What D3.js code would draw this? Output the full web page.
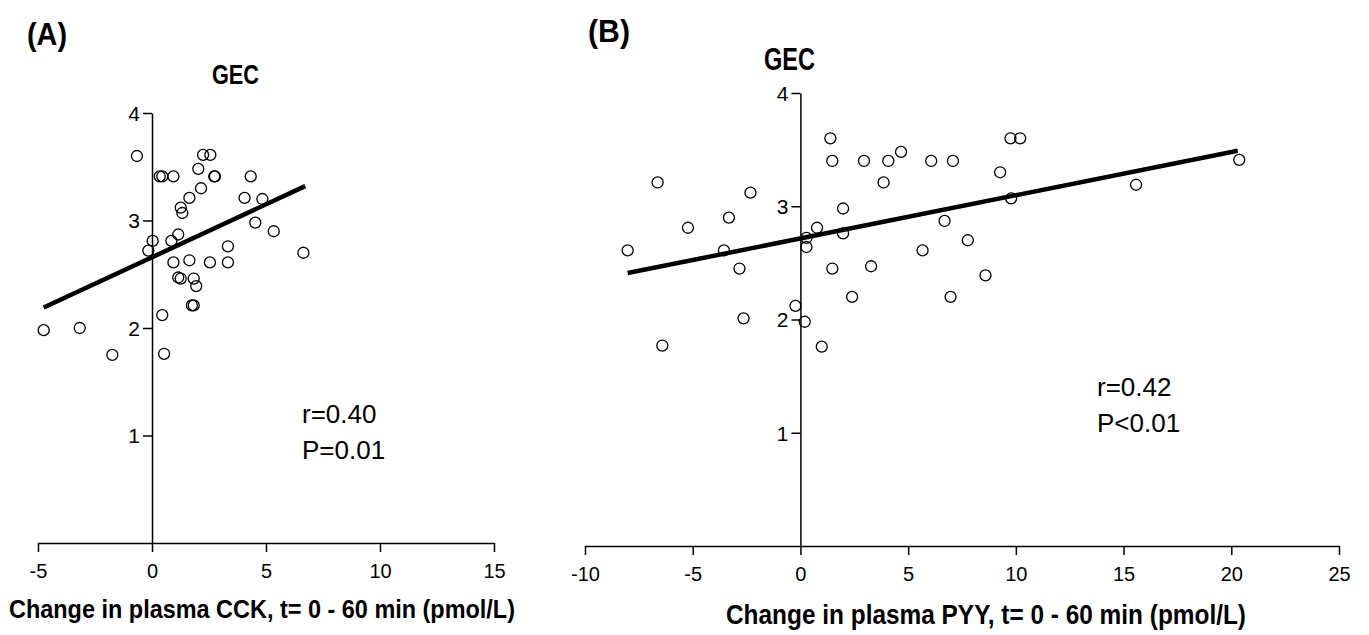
<!DOCTYPE html>
<html>
<head>
<meta charset="utf-8">
<script src="https://cdn.jsdelivr.net/npm/d3@7"></script>
<style>
  body{margin:0;background:#fff;}
  .narrow{font-family:"Liberation Sans",Arial,sans-serif;font-weight:bold;}
</style>
</head>
<body>
<svg id="chart" width="1369" height="635"></svg>
<script>
// panel A: change in CCK vs GEC
const cckA=[-4.75,-3.17,-1.74,-0.66,-0.16,0.03,0.34,0.45,0.45,0.53,0.94,0.85,0.94,1.15,1.26,1.33,1.15,1.26,1.64,1.64,1.75,1.83,1.83,1.94,2.03,2.15,2.24,2.56,2.54,2.73,2.76,3.33,3.33,4.06,4.33,4.53,4.84,5.34,6.64]
const gecA=[1.98,2.00,1.75,3.60,2.72,2.81,3.41,3.41,2.12,1.76,3.41,2.81,2.61,2.87,3.12,3.07,2.47,2.46,2.63,3.21,2.21,2.21,2.46,2.39,3.48,3.30,3.61,3.61,2.61,3.41,3.41,2.76,2.61,3.21,3.41,2.98,3.20,2.90,2.70]
// panel B: change in PYY vs GEC
const pyyB=[-8.02,-6.63,-6.41,-5.22,-3.55,-3.32,-2.83,-2.64,-2.32,-0.23,0.20,0.28,0.28,0.77,0.99,1.39,1.48,1.48,1.98,1.98,2.40,2.95,3.28,3.86,4.08,4.67,5.67,6.07,6.69,6.97,7.08,7.77,8.59,9.27,9.75,10.2,9.78,15.58,20.37]
const gecB=[2.61,3.21,1.77,2.81,2.61,2.90,2.45,2.01,3.12,2.12,1.98,2.72,2.64,2.81,1.76,3.60,3.40,2.45,2.98,2.76,2.20,3.40,2.47,3.21,3.40,3.48,2.61,3.40,2.87,2.20,3.40,2.70,2.39,3.30,3.60,3.60,3.07,3.19,3.41]
// regression lines (end points)
const fitAx=[-4.75,6.72], fitAy=[2.19,3.32]
const fitBx=[-8.02,20.3], fitBy=[2.41,3.49]
const xTicksA=[-5,0,5,10,15]
const xTicksB=[-10,-5,0,5,10,15,20,25]
const yTicks=[1,2,3,4]

const svg=d3.select("#chart")

// condensed label: bold text squeezed to the measured width
function narrowText(g,x,y,size,len,anchor,txt){
  return g.append("text").attr("class","narrow")
    .attr("x",x).attr("y",y).attr("font-size",size)
    .attr("text-anchor",anchor)
    .attr("textLength",len).attr("lengthAdjust","spacingAndGlyphs")
    .text(txt)
}

function panel(o){
  const x=d3.scaleLinear().domain(o.xdom).range(o.xr)
  const y=d3.scaleLinear().domain([0,4]).range(o.yr)
  const g=svg.append("g")
  const xax=g.append("g").attr("transform",`translate(0,${o.yr[0]})`)
    .call(d3.axisBottom(x).tickValues(o.xticks).tickFormat(d=>String(d)).tickSize(9).tickSizeOuter(0).tickPadding(12))
  const yax=g.append("g").attr("transform",`translate(${x(0)},0)`)
    .call(d3.axisLeft(y).tickValues(yTicks).tickFormat(d=>String(d)).tickSize(9).tickSizeOuter(0).tickPadding(3))
  xax.selectAll("text").attr("font-size",20).attr("font-family","'Liberation Sans',Arial,sans-serif")
  yax.selectAll("text").attr("font-size",21).attr("font-family","'Liberation Sans',Arial,sans-serif").attr("dy","0.35em")
  g.selectAll(".domain,.tick line").attr("stroke","#000").attr("stroke-width",1.5)
  g.selectAll(".pt")
    .data(o.xs.map((d,i)=>[d,o.ys[i]]))
    .enter().append("circle")
    .attr("cx",d=>x(d[0])).attr("cy",d=>y(d[1])).attr("r",5.5)
    .attr("fill","none").attr("stroke","#000").attr("stroke-width",1.3)
  g.append("line")
    .attr("x1",x(o.fx[0])).attr("y1",y(o.fy[0]))
    .attr("x2",x(o.fx[1])).attr("y2",y(o.fy[1]))
    .attr("stroke","#000").attr("stroke-width",4.5)
  narrowText(g,o.tag[0],o.tag[1],32,o.tag[2],"start",o.tagText)
  narrowText(g,o.gec[0],o.gec[1],o.gec[2],o.gec[3],"start","GEC")
  narrowText(g,o.xlab[0],o.xlab[1],o.xlab[2],o.xlab[3],"start",o.xtitle)
  const st=g.append("text").attr("font-family","'Liberation Sans',Arial,sans-serif").attr("font-size",26)
  st.append("tspan").attr("x",o.stat[0]).attr("y",o.stat[1]).text(o.r)
  st.append("tspan").attr("x",o.stat[0]).attr("y",o.stat[1]+36).text(o.p)
}

panel({xdom:[-5,15],xr:[38,494],yr:[543,113],xticks:xTicksA,xs:cckA,ys:gecA,fx:fitAx,fy:fitAy,
  tag:[27,45,40],tagText:"(A)",gec:[212,84,28,47],xlab:[9,618,26,506],xtitle:"Change in plasma CCK, t= 0 - 60 min (pmol/L)",
  stat:[302,423],r:"r=0.40",p:"P=0.01"})
panel({xdom:[-10,25],xr:[585,1339],yr:[546,93],xticks:xTicksB,xs:pyyB,ys:gecB,fx:fitBx,fy:fitBy,
  tag:[588,42,42],tagText:"(B)",gec:[764,70,31,51],xlab:[726,624,27,520],xtitle:"Change in plasma PYY, t= 0 - 60 min (pmol/L)",
  stat:[1097,396],r:"r=0.42",p:"P<0.01"})
</script>
</body>
</html>
